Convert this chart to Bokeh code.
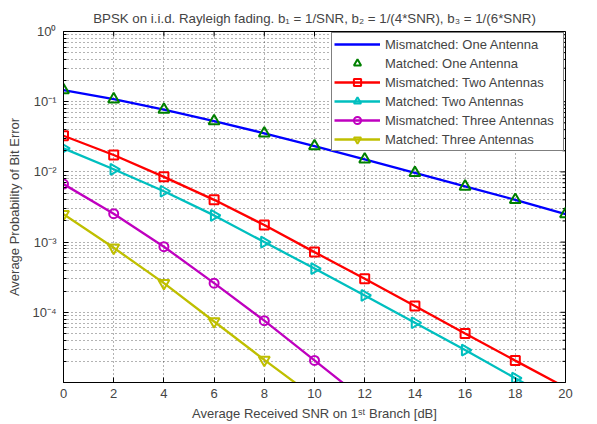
import math
from bokeh.plotting import figure
from bokeh.models import FixedTicker, Legend, LegendItem, Range1d
from bokeh.embed import file_html
from bokeh.resources import INLINE

# ---------------- data ----------------
snr_db = [0, 2, 4, 6, 8, 10, 12, 14, 16, 18, 20]
mismatched_one = [0.146, 0.1085, 0.0771, 0.0530, 0.0355, 0.0233, 0.0151, 0.0097, 0.0062, 0.0040, 0.0025]
matched_one = [0.146, 0.1085, 0.0771, 0.0530, 0.0355, 0.0233, 0.0151, 0.0097, 0.0062, 0.0040, 0.0025]
mismatched_two = [0.0327, 0.0174, 0.0085, 0.0040, 0.00175, 0.00072, 0.00030, 0.000123, 5.0e-5, 2.05e-5, 8.5e-6]
matched_two = [0.0216, 0.0109, 0.0053, 0.0024, 0.0010, 0.00042, 0.000174, 7.1e-5, 2.9e-5, 1.15e-5, 4.6e-6]
snr_db_mis_three = [0, 2, 4, 6, 8, 10, 12]
mismatched_three = [0.0067, 0.00254, 0.00086, 0.00026, 7.6e-5, 2.06e-5, 5.6e-6]
snr_db_mat_three = [0, 2, 4, 6, 8, 10]
matched_three = [0.0025, 0.00083, 0.00026, 7.4e-5, 2.1e-5, 6.2e-6]

series_labels = ["Mismatched: One Antenna", "Matched: One Antenna",
                 "Mismatched: Two Antennas", "Matched: Two Antennas",
                 "Mismatched: Three Antennas", "Matched: Three Antennas"]

xtick_values = [0, 2, 4, 6, 8, 10, 12, 14, 16, 18, 20]
ytick_values = [1.0, 0.1, 0.01, 0.001, 0.0001]
ytick_labels = ["10\u2070", "10\u207b\u00b9", "10\u207b\u00b2", "10\u207b\u00b3", "10\u207b\u2074"]

title_text = "BPSK on i.i.d. Rayleigh fading. b\u2081 = 1/SNR, b\u2082 = 1/(4*SNR), b\u2083 = 1/(6*SNR)"
x_label = "Average Received SNR on 1\u02e2\u1d57 Branch [dB]"
y_label = "Average Probability of Bit Error"

# ---------------- styling ----------------
FONT = "Liberation Sans"
BLUE = "#0000ff"
GREEN = "#008000"
RED = "#ff0000"
CYAN = "#00bfbf"
MAGENTA = "#bf00bf"
YELLOW = "#bfbf00"

X0, X1 = 0, 20
Y0, Y1 = 1e-5, 1.0

p = figure(width=597, height=424, y_axis_type="log",
           x_range=Range1d(X0, X1), y_range=Range1d(Y0, Y1),
           output_backend="svg", toolbar_location=None,
           min_border_left=63, min_border_right=32,
           min_border_top=31, min_border_bottom=42,
           title=title_text)
p.title.text_font = FONT
p.title.text_font_size = "13.3px"
p.title.text_font_style = "normal"
p.title.align = "center"
p.title.vertical_align = "top"
p.title.standoff = 8
p.outline_line_color = "black"
p.outline_line_width = 1
p.background_fill_color = "white"
p.border_fill_color = "white"

minor_y = [m * 10.0 ** e for e in range(-5, 0) for m in range(2, 10)]
xticker = FixedTicker(ticks=xtick_values, minor_ticks=[])
yticker = FixedTicker(ticks=ytick_values, minor_ticks=minor_y)

def style_axis(ax):
    ax.axis_line_color = "black"
    ax.axis_line_width = 1
    ax.major_tick_in = 5
    ax.major_tick_out = 0
    ax.minor_tick_in = 3
    ax.minor_tick_out = 0
    ax.major_tick_line_color = "black"
    ax.minor_tick_line_color = "black"
    ax.major_label_text_font = FONT
    ax.major_label_text_font_size = "13px"
    ax.axis_label_text_font = FONT
    ax.axis_label_text_font_size = "13px"
    ax.axis_label_text_font_style = "normal"

xa = p.xaxis[0]
xa.ticker = xticker
style_axis(xa)
xa.major_label_standoff = 6
xa.axis_label = x_label
xa.axis_label_standoff = 5

ya = p.yaxis[0]
ya.ticker = yticker
style_axis(ya)
ya.major_label_overrides = dict(zip(ytick_values, ytick_labels))
ya.major_label_standoff = 7
ya.axis_label = y_label
ya.axis_label_standoff = 7

p.xgrid.ticker = xticker
p.ygrid.ticker = yticker
for g in (p.xgrid[0], p.ygrid[0]):
    g.grid_line_color = "black"
    g.grid_line_alpha = 0.6
    g.grid_line_dash = "1 3"
    g.grid_line_width = 1
p.ygrid[0].minor_grid_line_color = "black"
p.ygrid[0].minor_grid_line_alpha = 0.6
p.ygrid[0].minor_grid_line_dash = "1 3"

# inward tick marks on the top and right edges of the box (clipped to frame)
p.scatter(xtick_values, [Y1] * len(xtick_values), marker="dash", angle=math.pi / 2,
          size=10, line_color="black", line_width=1)
p.scatter([X1] * len(ytick_values), ytick_values, marker="dash",
          size=10, line_color="black", line_width=1)
p.scatter([X1] * len(minor_y), minor_y, marker="dash",
          size=6, line_color="black", line_width=1)

LW = 2.3
r_mis1 = p.line(snr_db, mismatched_one, line_color=BLUE, line_width=LW)
r_mat1 = p.scatter(snr_db, matched_one, marker="triangle", size=11,
                   line_color=GREEN, line_width=2, fill_color=None)

r_mis2_l = p.line(snr_db, mismatched_two, line_color=RED, line_width=LW)
r_mis2_m = p.scatter(snr_db, mismatched_two, marker="square", size=9,
                     line_color=RED, line_width=2, fill_color=None)

r_mat2_l = p.line(snr_db, matched_two, line_color=CYAN, line_width=LW)
r_mat2_m = p.scatter(snr_db, matched_two, marker="triangle", size=11, angle=-math.pi / 2,
                     line_color=CYAN, line_width=2, fill_color=None)

r_mis3_l = p.line(snr_db_mis_three, mismatched_three, line_color=MAGENTA, line_width=LW)
r_mis3_m = p.scatter(snr_db_mis_three, mismatched_three, marker="circle", size=9,
                     line_color=MAGENTA, line_width=2, fill_color=None)

r_mat3_l = p.line(snr_db_mat_three, matched_three, line_color=YELLOW, line_width=LW)
r_mat3_m = p.scatter(snr_db_mat_three, matched_three, marker="inverted_triangle", size=11,
                     line_color=YELLOW, line_width=2, fill_color=None)

items = [
    LegendItem(label=series_labels[0], renderers=[r_mis1]),
    LegendItem(label=series_labels[1], renderers=[r_mat1]),
    LegendItem(label=series_labels[2], renderers=[r_mis2_l, r_mis2_m]),
    LegendItem(label=series_labels[3], renderers=[r_mat2_l, r_mat2_m]),
    LegendItem(label=series_labels[4], renderers=[r_mis3_l, r_mis3_m]),
    LegendItem(label=series_labels[5], renderers=[r_mat3_l, r_mat3_m]),
]
legend = Legend(items=items, location="top_right")
legend.margin = 1
legend.padding = 2
legend.spacing = 1
legend.glyph_width = 46
legend.glyph_height = 18
legend.label_height = 18
legend.label_width = 176
legend.label_standoff = 5
legend.label_text_font = FONT
legend.label_text_font_size = "13px"
legend.border_line_color = "black"
legend.border_line_width = 1
legend.background_fill_color = "white"
legend.background_fill_alpha = 1.0
p.add_layout(legend, "center")

open("out.html", "w").write(file_html(p, INLINE))
